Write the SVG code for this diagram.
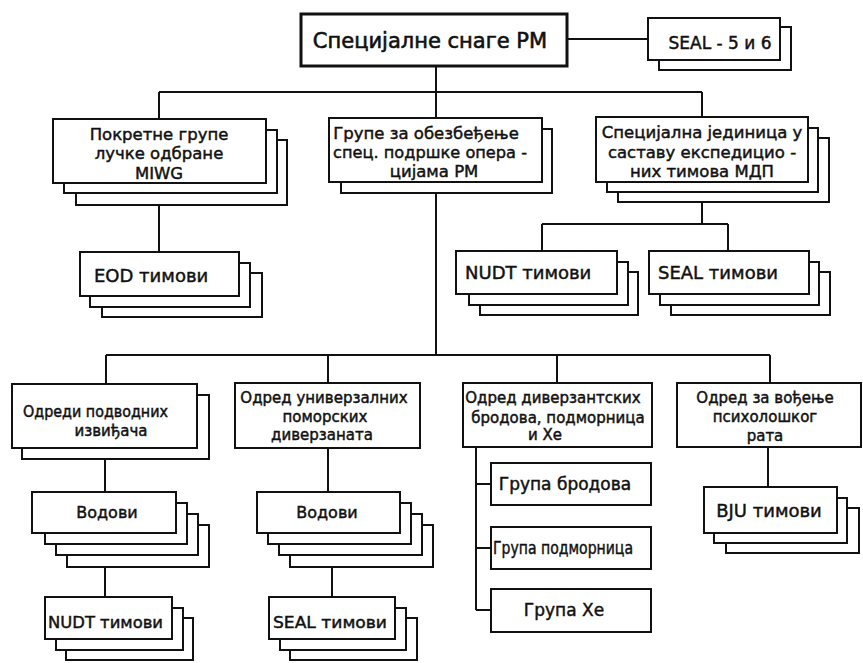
<svg xmlns="http://www.w3.org/2000/svg" width="863" height="663" viewBox="0 0 863 663">
<style>
  .bx{fill:#fff;stroke:#111;stroke-width:2}
  .bt{fill:#fff;stroke:#111;stroke-width:3}
  .ln{fill:none;stroke:#111;stroke-width:2}
  text{font-family:"DejaVu Sans","Liberation Sans",sans-serif;fill:#111;stroke:#111;stroke-width:0.45;font-size:15px}
  .m{text-anchor:middle}
  .big{font-size:21px;stroke-width:0.6}
  .s16{font-size:16.5px}
  .s17{font-size:17px}
  .s18{font-size:18px}
  .l16{font-size:16px}
</style>
<rect width="863" height="663" fill="#fff"/>
<g id="connectors">
  <path class="ln" d="M567 39H648"/>
  <path class="ln" d="M436 66V118M159 92H702M159 92V119M702 92V117"/>
  <path class="ln" d="M159 205V252"/>
  <path class="ln" d="M702 182V224M542 224H728M542 224V251M728 224V251"/>
  <path class="ln" d="M436 193V355M106 355H770M106 355V384M328 355V383M557 355V383M770 355V383"/>
  <path class="ln" d="M105 459V492M105 567V597"/>
  <path class="ln" d="M328 448V492M332 567V597"/>
  <path class="ln" d="M476 447V610M476 484H491M476 548H491M476 610H491"/>
  <path class="ln" d="M768 447V487"/>
</g>
<g id="n-top">
  <rect class="bt" x="301" y="14" width="266" height="52"/>
  <text class="m big" x="430" y="48">Специјалне снаге РМ</text>
</g>
<g id="n-seal56">
  <rect class="bx" x="659" y="27" width="132" height="43"/>
  <rect class="bx" x="648" y="18" width="132" height="42"/>
  <text class="m s17" x="720" y="49">SEAL - 5 и 6</text>
</g>
<g id="n-miwg">
  <rect class="bx" x="76" y="140" width="211" height="65"/>
  <rect class="bx" x="64" y="130" width="213" height="63"/>
  <rect class="bx" x="53" y="119" width="213" height="64"/>
  <text class="m s16" x="159" y="140">Покретне групе</text>
  <text class="m s16" x="159" y="159">лучке одбране</text>
  <text class="m s16" x="159" y="179">MIWG</text>
</g>
<g id="n-podrska">
  <rect class="bx" x="341" y="129" width="211" height="64"/>
  <rect class="bx" x="329" y="118" width="213" height="64"/>
  <text class="m s16" x="426" y="139">Групе за обезбеђење</text>
  <text class="m s16" x="430" y="158" textLength="194" lengthAdjust="spacingAndGlyphs">спец. подршке опера -</text>
  <text class="m s16" x="434" y="177">цијама РМ</text>
</g>
<g id="n-mdp">
  <rect class="bx" x="618" y="138" width="211" height="64"/>
  <rect class="bx" x="607" y="128" width="211" height="64"/>
  <rect class="bx" x="596" y="117" width="212" height="65"/>
  <text class="m s16" x="702" y="138">Специјална јединица у</text>
  <text class="m s16" x="702" y="158">саставу експедицио -</text>
  <text class="m s16" x="702" y="177">них тимова МДП</text>
</g>
<g id="n-eod">
  <rect class="bx" x="102" y="273" width="160" height="44"/>
  <rect class="bx" x="90" y="263" width="160" height="44"/>
  <rect class="bx" x="80" y="252" width="159" height="44"/>
  <text class="s18" x="94" y="282">EOD тимови</text>
</g>
<g id="n-nudt1">
  <rect class="bx" x="480" y="272" width="158" height="43"/>
  <rect class="bx" x="469" y="262" width="159" height="43"/>
  <rect class="bx" x="456" y="251" width="161" height="43"/>
  <text class="s18" x="465" y="279">NUDT тимови</text>
</g>
<g id="n-seal1">
  <rect class="bx" x="671" y="272" width="159" height="43"/>
  <rect class="bx" x="660" y="262" width="159" height="43"/>
  <rect class="bx" x="649" y="251" width="160" height="43"/>
  <text class="s18" x="658" y="279">SEAL тимови</text>
</g>
<g id="n-izvidjaci">
  <rect class="bx" x="22" y="395" width="187" height="64"/>
  <rect class="bx" x="12" y="384" width="185" height="64"/>
  <text x="23" y="417" textLength="145" lengthAdjust="spacingAndGlyphs">Одреди подводних</text>
  <text class="m" x="111" y="436">извиђача</text>
</g>
<g id="n-diverzanti">
  <rect class="bx" x="235" y="383" width="185" height="65"/>
  <text class="m" x="324" y="403">Одред универзалних</text>
  <text class="m" x="325" y="422">поморских</text>
  <text class="m" x="322" y="440">диверзаната</text>
</g>
<g id="n-brodovi">
  <rect class="bx" x="463" y="383" width="189" height="64"/>
  <text class="m" x="553" y="403">Одред диверзантских</text>
  <text class="m" x="558" y="423">бродова, подморница</text>
  <text class="m" x="545" y="440">и Хе</text>
</g>
<g id="n-psiho">
  <rect class="bx" x="677" y="383" width="184" height="64"/>
  <text class="m" x="765" y="403">Одред за вођење</text>
  <text class="m" x="765" y="422">психолошког</text>
  <text class="m" x="765" y="441">рата</text>
</g>
<g id="n-vodovi1">
  <rect class="bx" x="67" y="525" width="142" height="42"/>
  <rect class="bx" x="56" y="514" width="142" height="41"/>
  <rect class="bx" x="45" y="503" width="142" height="41"/>
  <rect class="bx" x="32" y="492" width="144" height="41"/>
  <text class="m l16" x="107" y="518">Водови</text>
</g>
<g id="n-nudt2">
  <rect class="bx" x="66" y="618" width="127" height="42"/>
  <rect class="bx" x="56" y="608" width="127" height="42"/>
  <rect class="bx" x="45" y="597" width="127" height="42"/>
  <text class="l16" x="48" y="628" textLength="115" lengthAdjust="spacingAndGlyphs">NUDT тимови</text>
</g>
<g id="n-vodovi2">
  <rect class="bx" x="290" y="525" width="143" height="42"/>
  <rect class="bx" x="279" y="514" width="143" height="41"/>
  <rect class="bx" x="268" y="503" width="143" height="41"/>
  <rect class="bx" x="257" y="492" width="143" height="41"/>
  <text class="m l16" x="327" y="518">Водови</text>
</g>
<g id="n-seal2">
  <rect class="bx" x="290" y="618" width="127" height="42"/>
  <rect class="bx" x="280" y="608" width="126" height="42"/>
  <rect class="bx" x="269" y="597" width="126" height="42"/>
  <text class="l16" x="273" y="628" textLength="114" lengthAdjust="spacingAndGlyphs">SEAL тимови</text>
</g>
<g id="n-grupa-brodova">
  <rect class="bx" x="491" y="463" width="160" height="42"/>
  <text class="m s17" x="565" y="490">Група бродова</text>
</g>
<g id="n-grupa-podmornica">
  <rect class="bx" x="491" y="527" width="160" height="42"/>
  <text class="m s17" x="563" y="554" textLength="140" lengthAdjust="spacingAndGlyphs">Група подморница</text>
</g>
<g id="n-grupa-he">
  <rect class="bx" x="491" y="589" width="160" height="43"/>
  <text class="m s17" x="564" y="616">Група Хе</text>
</g>
<g id="n-bju">
  <rect class="bx" x="726" y="508" width="133" height="45"/>
  <rect class="bx" x="714" y="498" width="133" height="45"/>
  <rect class="bx" x="704" y="487" width="133" height="46"/>
  <text class="m s18" x="769" y="517">BJU тимови</text>
</g>
</svg>
